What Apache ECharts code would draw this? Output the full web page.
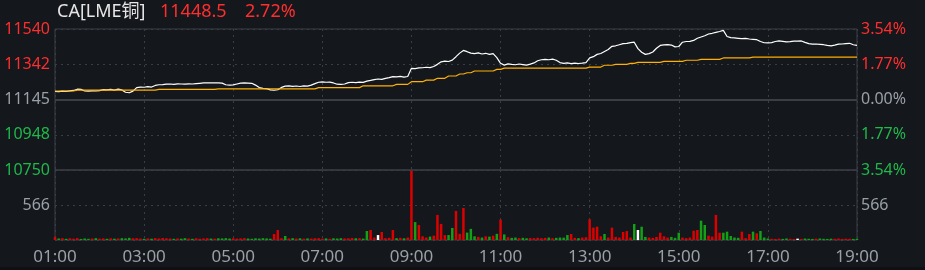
<!DOCTYPE html>
<html><head><meta charset="utf-8">
<script src="https://cdn.jsdelivr.net/npm/echarts@6/dist/echarts.min.js"></script>
<style>html,body{margin:0;padding:0;background:#14171c;}#c{width:925px;height:270px;}</style>
</head><body><div id="c"></div>
<script>
// ---- data ----
const titleName = 'CA[LME铜]';
const lastPrice = '11448.5';
const changePct = '2.72%';
const timeLabels = ['01:00','03:00','05:00','07:00','09:00','11:00','13:00','15:00','17:00','19:00'];
const stepMinutes = 5;
const prevClose = 11145.35;
const priceRange = 394.65;
const volTickLabel = 566;

const price = [
11190,11189,11192,11191,11194,11196,11203,11202,11193,11192,
11194,11193,11195,11201,11199,11202,11198,11203,11199,11186,
11183,11192,11212,11215,11214,11217,11215,11224,11228,11229,
11231,11232,11230,11233,11232,11231,11233,11232,11234,11236,
11238,11239,11238,11239,11238,11237,11228,11226,11227,11232,
11237,11238,11237,11236,11226,11212,11208,11206,11199,11197,
11200,11213,11220,11222,11219,11221,11218,11222,11220,11226,
11234,11242,11244,11242,11243,11238,11231,11230,11232,11240,
11242,11240,11243,11241,11248,11252,11257,11260,11258,11264,
11268,11273,11272,11275,11271,11274,11320,11318,11322,11323,
11326,11324,11330,11342,11356,11360,11358,11366,11385,11405,
11420,11413,11405,11402,11406,11400,11404,11398,11402,11380,
11348,11338,11345,11342,11340,11344,11341,11338,11343,11350,
11362,11368,11370,11368,11371,11365,11352,11348,11350,11346,
11349,11347,11349,11352,11378,11385,11398,11403,11414,11425,
11443,11446,11452,11458,11460,11464,11466,11430,11410,11398,
11402,11411,11432,11448,11451,11453,11450,11440,11442,11466,
11470,11471,11476,11488,11495,11502,11512,11516,11521,11526,
11532,11498,11492,11490,11488,11486,11487,11484,11482,11480,
11470,11463,11462,11464,11470,11473,11471,11468,11469,11472,
11472,11473,11465,11458,11455,11456,11454,11452,11448,11446,
11450,11455,11456,11458,11460,11452,11448.5];

const avgPrice = [
11193,11193,11193,11193,11193,11193,11198,11198,11198,11198,
11198,11198,11198,11198,11198,11198,11198,11198,11198,11198,
11198,11198,11198,11198,11198,11198,11198,11198,11202,11202,
11202,11202,11202,11202,11202,11202,11202,11202,11202,11202,
11202,11202,11202,11202,11205,11205,11205,11205,11205,11205,
11205,11205,11205,11205,11205,11205,11205,11205,11205,11205,
11205,11205,11205,11205,11205,11205,11205,11205,11205,11205,
11205,11212,11212,11212,11212,11212,11212,11212,11212,11212,
11212,11212,11212,11222,11222,11222,11222,11222,11222,11222,
11222,11222,11230,11230,11230,11230,11245,11245,11245,11245,
11254,11254,11254,11264,11264,11264,11277,11277,11277,11288,
11288,11295,11295,11305,11305,11305,11305,11305,11305,11314,
11314,11321,11321,11321,11321,11321,11321,11321,11321,11321,
11321,11321,11321,11321,11321,11321,11321,11321,11321,11321,
11321,11321,11321,11321,11327,11327,11327,11327,11337,11337,
11337,11342,11342,11342,11342,11348,11348,11353,11353,11353,
11353,11353,11353,11353,11359,11359,11359,11359,11359,11359,
11365,11365,11365,11365,11370,11370,11370,11370,11370,11370,
11378,11378,11378,11378,11378,11378,11378,11378,11383,11383,
11383,11383,11383,11383,11383,11383,11383,11383,11383,11383,
11383,11383,11383,11383,11383,11383,11383,11383,11383,11383,
11383,11383,11383,11383,11383,11383,11383];

const volume = [
50,25,30,20,28,22,30,18,25,20,
24,30,22,26,20,28,22,25,30,26,
35,28,30,24,20,26,22,30,25,32,
28,24,20,26,22,30,24,20,28,22,
26,30,24,22,28,26,30,24,28,22,
26,30,24,20,28,24,30,26,22,97,
162,28,65,26,30,24,28,22,26,24,
28,30,22,26,20,28,24,30,26,28,
32,28,30,24,146,162,40,80,130,30,
35,162,30,35,28,40,1118,290,243,60,
40,55,70,405,260,80,80,195,470,100,
518,120,180,60,50,40,60,55,70,100,
330,90,45,35,40,30,35,28,32,30,
36,30,34,40,30,35,40,38,80,97,
35,30,40,45,335,200,215,60,97,40,
200,50,40,130,145,40,259,162,215,50,
40,35,50,118,60,40,50,35,118,40,
30,40,150,162,313,243,70,55,405,118,
118,135,65,40,35,135,30,97,135,108,
146,40,25,20,18,22,18,25,20,16,
22,18,24,20,18,22,25,20,18,22,
20,25,18,22,20,18,20];

const volDirOverride = [[59,1],[62,-1],[84,-1],[87,0],[88,1],[107,-1],[120,1],[138,-1],[139,1],
  [148,-1],[156,-1],[157,0],[168,-1],[174,-1],[175,-1],[180,-1],[185,1],[187,1],[189,1]];

// ---- chart ----
const RED = '#ff2e2e', GREEN = '#1fb84a', GRAY = '#9aa0a7';
const BAR_RED = '#dc0000', BAR_GREEN = '#13a016', BAR_WHITE = '#ffffff';
const FONT = "'Noto Sans','Noto Sans CJK SC',sans-serif";
const GRIDC = '#3a3d43';

const ovr = {};
volDirOverride.forEach(([i, d]) => { ovr[i] = d; });

const priceData = price.map((p, i) => [i * stepMinutes, p - prevClose]);
const avgData = avgPrice.map((p, i) => [i * stepMinutes, p - prevClose]);
const volData = volume.map((v, i) => {
  let d = i === 0 ? 1 : Math.sign(price[i] - price[i - 1]);
  if (ovr[i] !== undefined) d = ovr[i];
  const c = d > 0 ? BAR_RED : d < 0 ? BAR_GREEN : BAR_WHITE;
  return { value: [i * stepMinutes, v], itemStyle: { color: c } };
});
const totalMin = (timeLabels.length - 1) * 120;

function sideColor(v) { v = Number(v); return v > 1e-6 ? RED : v < -1e-6 ? GREEN : GRAY; }

const chart = echarts.init(document.getElementById('c'), null, { renderer: 'canvas' });
const xBase = {
  type: 'value', min: 0, max: totalMin, interval: 120,
  axisLine: { show: false }, axisTick: { show: false },
  splitLine: { show: true, lineStyle: { color: GRIDC, type: [2, 4], width: 1 } }
};
chart.setOption({
  backgroundColor: '#14171c',
  animation: false,
  textStyle: { fontFamily: FONT },
  grid: [
    { left: 55, right: 68, top: 29, height: 141, show: true, borderColor: '#3d4046', borderWidth: 1, backgroundColor: 'transparent' },
    { left: 55, right: 68, top: 170, height: 70, show: true, borderColor: '#3d4046', borderWidth: 1, backgroundColor: 'transparent' }
  ],
  graphic: [
    { type: 'text', left: 57, top: 3, style: { text: titleName, fill: '#e6e6e6', font: "18px " + FONT } },
    { type: 'text', left: 160, top: 3, style: { text: lastPrice, fill: RED, font: "18px " + FONT } },
    { type: 'text', left: 245, top: 3, style: { text: changePct, fill: RED, font: "18px " + FONT } },
    { type: 'rect', shape: { x: 0, y: 267, width: 925, height: 3 }, style: { fill: '#0e1013' } }
  ],
  xAxis: [
    Object.assign({}, xBase, { gridIndex: 0, axisLabel: { show: false } }),
    Object.assign({}, xBase, { gridIndex: 1, axisLabel: {
      show: true, color: GRAY, fontSize: 17, margin: 9, fontFamily: FONT,
      showMinLabel: true, showMaxLabel: true,
      formatter: v => timeLabels[Math.round(v / 120)] || ''
    } })
  ],
  yAxis: [
    { type: 'value', gridIndex: 0, position: 'left', min: -priceRange, max: priceRange, interval: priceRange / 2,
      axisLine: { show: false }, axisTick: { show: false },
      splitLine: { show: true, lineStyle: { color: GRIDC, type: [2, 4], width: 1 } },
      axisLabel: { color: sideColor, fontSize: 16, margin: 5, fontFamily: FONT, showMinLabel: true, showMaxLabel: true,
        formatter: v => String(Math.floor(prevClose + v + 1e-6)) } },
    { type: 'value', gridIndex: 0, position: 'right', min: -priceRange, max: priceRange, interval: priceRange / 2,
      axisLine: { show: false }, axisTick: { show: false }, splitLine: { show: false },
      axisLabel: { color: sideColor, fontSize: 16, margin: 4, fontFamily: FONT, showMinLabel: true, showMaxLabel: true,
        formatter: v => (Math.abs(v) / prevClose * 100).toFixed(2) + '%' } },
    { type: 'value', gridIndex: 1, position: 'left', min: 0, max: volTickLabel * 2, interval: volTickLabel,
      axisLine: { show: false }, axisTick: { show: false },
      splitLine: { show: true, lineStyle: { color: GRIDC, type: [2, 4], width: 1 } },
      axisLabel: { color: GRAY, fontSize: 16, margin: 5, fontFamily: FONT,
        formatter: v => (Math.abs(v - volTickLabel) < 1e-6 ? String(volTickLabel) : '') } },
    { type: 'value', gridIndex: 1, position: 'right', min: 0, max: volTickLabel * 2, interval: volTickLabel,
      axisLine: { show: false }, axisTick: { show: false }, splitLine: { show: false },
      axisLabel: { color: GRAY, fontSize: 16, margin: 4, fontFamily: FONT,
        formatter: v => (Math.abs(v - volTickLabel) < 1e-6 ? String(volTickLabel) : '') } }
  ],
  series: [
    { type: 'line', xAxisIndex: 0, yAxisIndex: 0, data: priceData, showSymbol: false, silent: true,
      lineStyle: { color: '#ffffff', width: 1.2 },
      markLine: { silent: true, symbol: 'none', label: { show: false },
        lineStyle: { color: '#3b3e44', width: 2, type: 'solid' }, data: [{ yAxis: 0 }] } },
    { type: 'line', xAxisIndex: 0, yAxisIndex: 0, data: avgData, showSymbol: false, silent: true,
      lineStyle: { color: '#ffb000', width: 1.2 } },
    { type: 'bar', xAxisIndex: 1, yAxisIndex: 2, data: volData, barWidth: 2.5, silent: true }
  ]
});
</script>
</body></html>
